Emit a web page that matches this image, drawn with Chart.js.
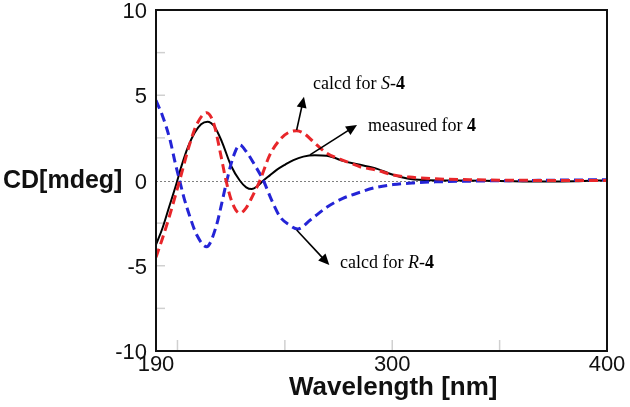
<!DOCTYPE html>
<html>
<head>
<meta charset="utf-8">
<script src="https://cdn.jsdelivr.net/npm/chart.js@4/dist/chart.umd.min.js"></script>
<style>
  html, body { margin: 0; padding: 0; background: #fff; }
  #wrap { width: 630px; height: 407px; position: relative; }
</style>
</head>
<body>
<div id="wrap"><canvas id="c" width="630" height="407"></canvas></div>
<script>
// ---------- data ----------
const measuredWl = [190,193,196,199,202,205,208,211,214,217,220.6,225,229,232,234.6,237.5,240,243,246.2,250,254,258.6,264,269.5,273,277,285,293,300,307,315,330,350,370,385,400];
const measuredCd = [-3.76,-2.8,-1.6,-0.4,0.9,2.0,2.8,3.3,3.45,3.2,2.3,0.85,0,-0.4,-0.5,-0.3,0,0.3,0.62,0.92,1.2,1.4,1.48,1.45,1.33,1.15,0.92,0.68,0.35,0.12,0.03,0,-0.03,-0.06,-0.05,0.02];

const sWl = [190,193,196,199,201,205.8,209,213.6,217,220,222.6,225.5,229,232,235,238.4,243,247.7,251.5,255.5,259,263.2,269.5,275.7,280,285,293,300.5,308,320,340,360,400];
const sCd = [-4.5,-3.4,-2.2,-0.9,0,2.18,3.3,3.98,3.3,1.6,0,-1.3,-1.92,-1.6,-0.9,0,1.5,2.4,2.8,2.92,2.75,2.28,1.6,1.25,1.05,0.81,0.6,0.32,0.2,0.1,0.04,0.01,0];

const rWl = [190,193,196.5,199,201,203,205.8,209,213.6,218,220.5,223,226,229,232,236,240,244,247.7,252,256,262,269.5,277,285,292,300.5,310,320,340,360,400];
const rCd = [4.7,3.8,2.4,1.0,0,-1.0,-2.13,-3.2,-3.88,-2.7,-1.4,0,1.4,2.08,1.7,0.9,0,-1.2,-2.12,-2.6,-2.84,-2.3,-1.57,-1.05,-0.69,-0.42,-0.24,-0.14,-0.08,-0.03,0,0.05];

const seriesNames = ['measured for 4', 'calcd for S-4', 'calcd for R-4'];
const xTickLabels = [190, 300, 400];
const yTickLabels = [-10, -5, 0, 5, 10];
const xMinorTicks = [200, 250, 300, 350];
const yMinorTicks = [-7.5, -5, -2.5, 2.5, 5, 7.5];
const xTitle = 'Wavelength [nm]';
const yTitle = 'CD[mdeg]';

// annotation anchors in data units: [arrowStartX, arrowStartY, arrowTipX, arrowTipY, textX, textY]
const annS = [255.5, 2.96, 258.9, 4.91, 263.1, 5.66];
const annM = [261.7, 1.5, 283.6, 3.26, 288.7, 3.2];
const annR = [255.5, -2.9, 270.7, -4.96, 275.7, -4.84];

const toPts = (xs, ys) => xs.map((x, i) => ({x: x, y: ys[i]}));

// ---------- plugin: frame, ticks, zero line, labels, arrows ----------
const decor = {
  id: 'decor',
  beforeDatasetsDraw(chart) {
    const {ctx, chartArea: a, scales: {x, y}} = chart;
    ctx.save();
    // zero line
    ctx.strokeStyle = '#808080';
    ctx.lineWidth = 1;
    ctx.setLineDash([2, 2]);
    ctx.beginPath();
    const y0 = Math.round(y.getPixelForValue(0)) + 0.5;
    ctx.moveTo(a.left, y0); ctx.lineTo(a.right, y0);
    ctx.stroke();
    ctx.setLineDash([]);
    // minor ticks (inner, light gray)
    ctx.strokeStyle = '#d0d0d0';
    ctx.lineWidth = 1.5;
    yMinorTicks.forEach(v => {
      const py = y.getPixelForValue(v);
      ctx.beginPath(); ctx.moveTo(a.left, py); ctx.lineTo(a.left + 9, py); ctx.stroke();
    });
    xMinorTicks.forEach(v => {
      const px = x.getPixelForValue(v);
      ctx.beginPath(); ctx.moveTo(px, a.bottom); ctx.lineTo(px, a.bottom - 11); ctx.stroke();
    });
    ctx.restore();
  },
  afterDatasetsDraw(chart) {
    const {ctx, chartArea: a, scales: {x, y}} = chart;
    ctx.save();
    // frame
    ctx.strokeStyle = '#111';
    ctx.lineWidth = 2;
    ctx.strokeRect(a.left, a.top, a.right - a.left, a.bottom - a.top);

    // arrows
    const arrow = (ann) => {
      const x1 = x.getPixelForValue(ann[0]), y1 = y.getPixelForValue(ann[1]);
      const x2 = x.getPixelForValue(ann[2]), y2 = y.getPixelForValue(ann[3]);
      const ang = Math.atan2(y2 - y1, x2 - x1);
      const hl = 11, hw = 5;
      ctx.strokeStyle = '#000'; ctx.fillStyle = '#000'; ctx.lineWidth = 1.6;
      ctx.beginPath();
      ctx.moveTo(x1, y1);
      ctx.lineTo(x2 - Math.cos(ang) * hl * 0.8, y2 - Math.sin(ang) * hl * 0.8);
      ctx.stroke();
      ctx.beginPath();
      ctx.moveTo(x2, y2);
      ctx.lineTo(x2 - Math.cos(ang) * hl + Math.sin(ang) * hw, y2 - Math.sin(ang) * hl - Math.cos(ang) * hw);
      ctx.lineTo(x2 - Math.cos(ang) * hl - Math.sin(ang) * hw, y2 - Math.sin(ang) * hl + Math.cos(ang) * hw);
      ctx.closePath();
      ctx.fill();
    };
    arrow(annS); arrow(annM); arrow(annR);

    // annotation text with mixed styles
    const drawParts = (parts, px, py) => {
      ctx.textBaseline = 'middle';
      ctx.textAlign = 'left';
      ctx.fillStyle = '#000';
      let cx = px;
      parts.forEach(p => {
        ctx.font = p[1] + ' 18px "Liberation Serif", "Times New Roman", serif';
        ctx.fillText(p[0], cx, py);
        cx += ctx.measureText(p[0]).width;
      });
    };
    drawParts([['calcd for ', ''], ['S', 'italic'], ['-', ''], ['4', 'bold']],
      x.getPixelForValue(annS[4]), y.getPixelForValue(annS[5]));
    drawParts([['measured for ', ''], ['4', 'bold']],
      x.getPixelForValue(annM[4]), y.getPixelForValue(annM[5]));
    drawParts([['calcd for ', ''], ['R', 'italic'], ['-', ''], ['4', 'bold']],
      x.getPixelForValue(annR[4]), y.getPixelForValue(annR[5]));

    // horizontal y-axis title
    ctx.font = 'bold 25px "Liberation Sans", Arial, sans-serif';
    ctx.textAlign = 'left';
    ctx.textBaseline = 'middle';
    ctx.fillStyle = '#111';
    ctx.fillText(yTitle, 3, y.getPixelForValue(0) + 1);

    // x-axis title (centred under the 300 nm label as in the original)
    ctx.font = 'bold 26px "Liberation Sans", Arial, sans-serif';
    ctx.textAlign = 'center';
    ctx.textBaseline = 'middle';
    ctx.fillText(xTitle, x.getPixelForValue(300) + 1, a.bottom + 37);
    ctx.restore();
  }
};

new Chart(document.getElementById('c'), {
  type: 'line',
  data: {
    datasets: [
      {
        label: seriesNames[1],
        data: toPts(sWl, sCd),
        borderColor: '#e8262a',
        borderWidth: 3,
        borderDash: [9, 5],
        pointRadius: 0,
        cubicInterpolationMode: 'monotone',
        fill: false
      },
      {
        label: seriesNames[2],
        data: toPts(rWl, rCd),
        borderColor: '#2424d6',
        borderWidth: 3,
        borderDash: [9, 5],
        pointRadius: 0,
        cubicInterpolationMode: 'monotone',
        fill: false
      },
      {
        label: seriesNames[0],
        data: toPts(measuredWl, measuredCd),
        borderColor: '#000000',
        borderWidth: 2,
        pointRadius: 0,
        cubicInterpolationMode: 'monotone',
        fill: false
      }
    ]
  },
  options: {
    responsive: false,
    animation: false,
    devicePixelRatio: 1,
    layout: { padding: { top: 10, right: 23, bottom: 0, left: 0 } },
    plugins: { legend: { display: false }, tooltip: { enabled: false } },
    scales: {
      x: {
        type: 'linear',
        min: 190, max: 400,
        grid: { display: false, drawTicks: false },
        border: { display: false },
        afterBuildTicks: (axis) => { axis.ticks = xTickLabels.map(v => ({value: v})); },
        afterFit: (axis) => { axis.height = 56; axis.paddingLeft = 0; axis.paddingRight = 0; },
        ticks: {
          color: '#111',
          padding: 3,
          maxRotation: 0,
          autoSkip: false,
          font: { family: '"Liberation Sans", Arial, sans-serif', size: 22, lineHeight: 1.0 }
        },
        title: { display: false }
      },
      y: {
        type: 'linear',
        min: -10, max: 10,
        grid: { display: false, drawTicks: false },
        border: { display: false },
        afterBuildTicks: (axis) => { axis.ticks = yTickLabels.map(v => ({value: v})); },
        afterFit: (axis) => { axis.width = 156; axis.paddingTop = 0; axis.paddingBottom = 0; },
        ticks: {
          color: '#111',
          padding: 9,
          labelOffset: 2,
          font: { family: '"Liberation Sans", Arial, sans-serif', size: 22, lineHeight: 1.0 }
        }
      }
    }
  },
  plugins: [decor]
});
</script>
</body>
</html>
